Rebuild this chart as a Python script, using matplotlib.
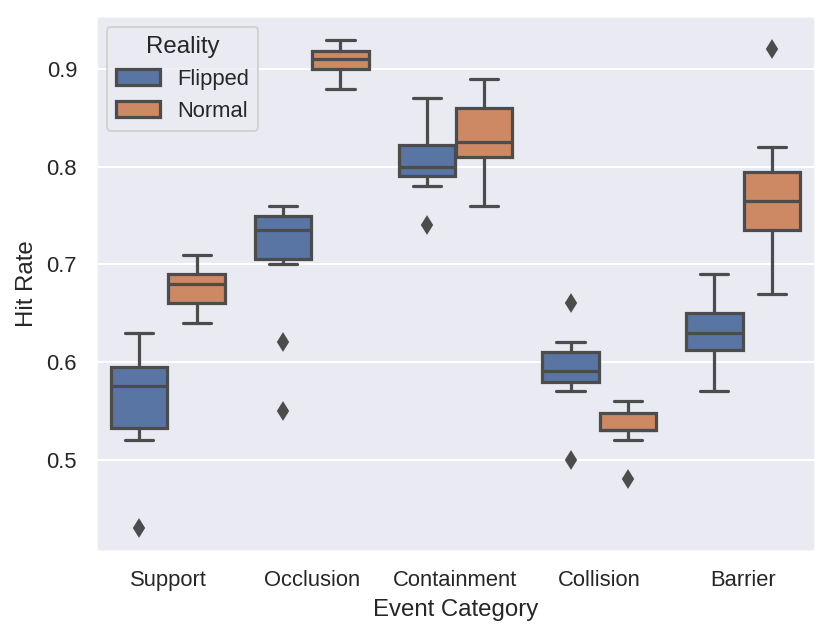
import numpy as np
import matplotlib
matplotlib.use("Agg")
import matplotlib.pyplot as plt
from matplotlib.patches import Patch
import seaborn as sns
import colorsys

categories = ["Support", "Occlusion", "Containment", "Collision", "Barrier"]
groups = ["Flipped", "Normal"]

# box stats, one value per category
flipped_lo = [0.52, 0.70, 0.78, 0.57, 0.57]
flipped_q1 = [0.532, 0.705, 0.79, 0.58, 0.612]
flipped_med = [0.575, 0.735, 0.80, 0.591, 0.63]
flipped_q3 = [0.595, 0.75, 0.822, 0.61, 0.65]
flipped_hi = [0.63, 0.76, 0.87, 0.62, 0.69]
flipped_fliers = [[0.43], [0.62, 0.55], [0.74], [0.66, 0.50], []]

normal_lo = [0.64, 0.88, 0.76, 0.52, 0.67]
normal_q1 = [0.66, 0.90, 0.81, 0.53, 0.735]
normal_med = [0.68, 0.91, 0.825, 0.53, 0.765]
normal_q3 = [0.69, 0.918, 0.86, 0.548, 0.795]
normal_hi = [0.71, 0.93, 0.89, 0.56, 0.82]
normal_fliers = [[], [], [], [0.48], [0.92]]

sns.set_theme()
plt.rcParams['font.family'] = ['Liberation Sans', 'DejaVu Sans']

pal = sns.color_palette("deep", 2)
colors = [sns.desaturate(c, .75) for c in pal]
lum = min(colorsys.rgb_to_hls(*c)[1] for c in colors) * .6
gray = (lum, lum, lum)
lw = 1.6

fig = plt.figure(figsize=(831 / 144, 638 / 144), dpi=144)
ax = fig.add_axes([96 / 831, 1 - 551 / 638, (815 - 96) / 831, (551 - 16) / 638])

data = [
    (flipped_lo, flipped_q1, flipped_med, flipped_q3, flipped_hi, flipped_fliers),
    (normal_lo, normal_q1, normal_med, normal_q3, normal_hi, normal_fliers),
]
offsets = [-0.2, 0.2]
x = np.arange(len(categories))

for g, (lo, q1, med, q3, hi, fl) in enumerate(data):
    stats = []
    for i in range(len(categories)):
        stats.append(dict(whislo=lo[i], q1=q1[i], med=med[i], q3=q3[i],
                          whishi=hi[i], fliers=fl[i]))
    ax.bxp(stats, positions=x + offsets[g], widths=0.4 * 0.98,
           patch_artist=True, manage_ticks=False,
           boxprops=dict(facecolor=colors[g], edgecolor=gray, linewidth=lw),
           medianprops=dict(color=gray, linewidth=lw),
           whiskerprops=dict(color=gray, linewidth=lw),
           capprops=dict(color=gray, linewidth=lw),
           flierprops=dict(marker="d", markerfacecolor=gray, markeredgecolor=gray,
                           markersize=6, linestyle="none"))

ax.set_xlim(-0.5, len(categories) - 0.5)
ax.set_ylim(0.4065, 0.9543)
ax.set_yticks([0.5, 0.6, 0.7, 0.8, 0.9])
ax.set_xticks(x)
ax.set_xticklabels(categories)
ax.xaxis.grid(False)
ax.set_xlabel("Event Category")
ax.set_ylabel("Hit Rate")

handles = [Patch(facecolor=colors[i], edgecolor=gray, linewidth=lw, label=groups[i])
           for i in range(2)]
ax.legend(handles=handles, title="Reality", loc="upper left")

fig.savefig("out.png", dpi=144)
